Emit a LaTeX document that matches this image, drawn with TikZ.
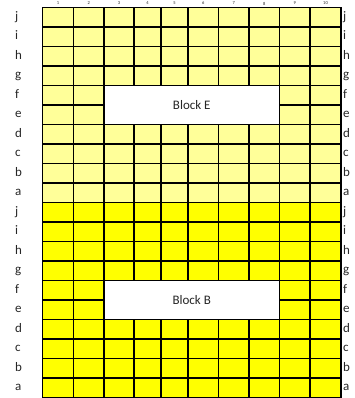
\documentclass[tikz,border=0pt]{standalone}
\usepackage{fontspec}
\setmainfont{Carlito}
\definecolor{lightyel}{HTML}{FFFF99}
\definecolor{darkyel}{HTML}{FFFF00}
\definecolor{txt}{HTML}{262626}
\begin{document}
\begin{tikzpicture}[x=1pt,y=1pt,
  gridline/.style={draw=black, line width=1.5pt},
  blockbox/.style={draw=black, fill=white, line width=1.5pt, inner sep=0pt,
    minimum width=175.5pt, minimum height=39pt, text=txt,
    font=\fontsize{13}{15}\selectfont},
  rowlab/.style={anchor=west, inner sep=0pt, text=txt, font=\fontsize{13}{15}\selectfont},
  collab/.style={inner sep=0pt, text=txt, font=\fontsize{4.5}{5}\selectfont}]
\useasboundingbox (0,0) rectangle (354,398);
% cells
\foreach \k in {0,...,19} {
  \pgfmathsetmacro{\yt}{390.7-19.5*\k}
  \pgfmathsetmacro{\yb}{\yt-19.5}
  \ifnum\k<10 \def\fc{lightyel}\else\def\fc{darkyel}\fi
  \foreach \xa/\xb [count=\c] in {42.7/73.3,73.3/104,104/134,134/161,161/188,188/218.5,218.5/249,249/279.5,279.5/310,310/341} {
    \pgfmathtruncatemacro{\skipit}{((\k==4||\k==5||\k==14||\k==15)&&(\c>2)&&(\c<9))?1:0}
    \ifnum\skipit=0
      \path[gridline, fill=\fc] (\xa,\yb) rectangle (\xb,\yt);
    \fi
  }
}
% blocks
\node[blockbox] (blockE) at (191.75,293.2) {Block E};
\node[blockbox] (blockB) at (191.75,98.2) {Block B};
% row labels
\foreach \l [count=\i from 0] in {j,i,h,g,f,e,d,c,b,a,j,i,h,g,f,e,d,c,b,a} {
  \pgfmathsetmacro{\yc}{380.95-19.5*\i}
  \node[rowlab] (L\i) at (15,\yc) {\strut\l};
  \node[rowlab] (R\i) at (343,\yc) {\strut\l};
}
% column numbers
\foreach \xc [count=\c] in {58,88.65,119,147.5,174.5,203.25,233.75,264.25,294.75,325.5} {
  \node[collab] (C\c) at (\xc,394.5) {\c};
}
\end{tikzpicture}
\end{document}
